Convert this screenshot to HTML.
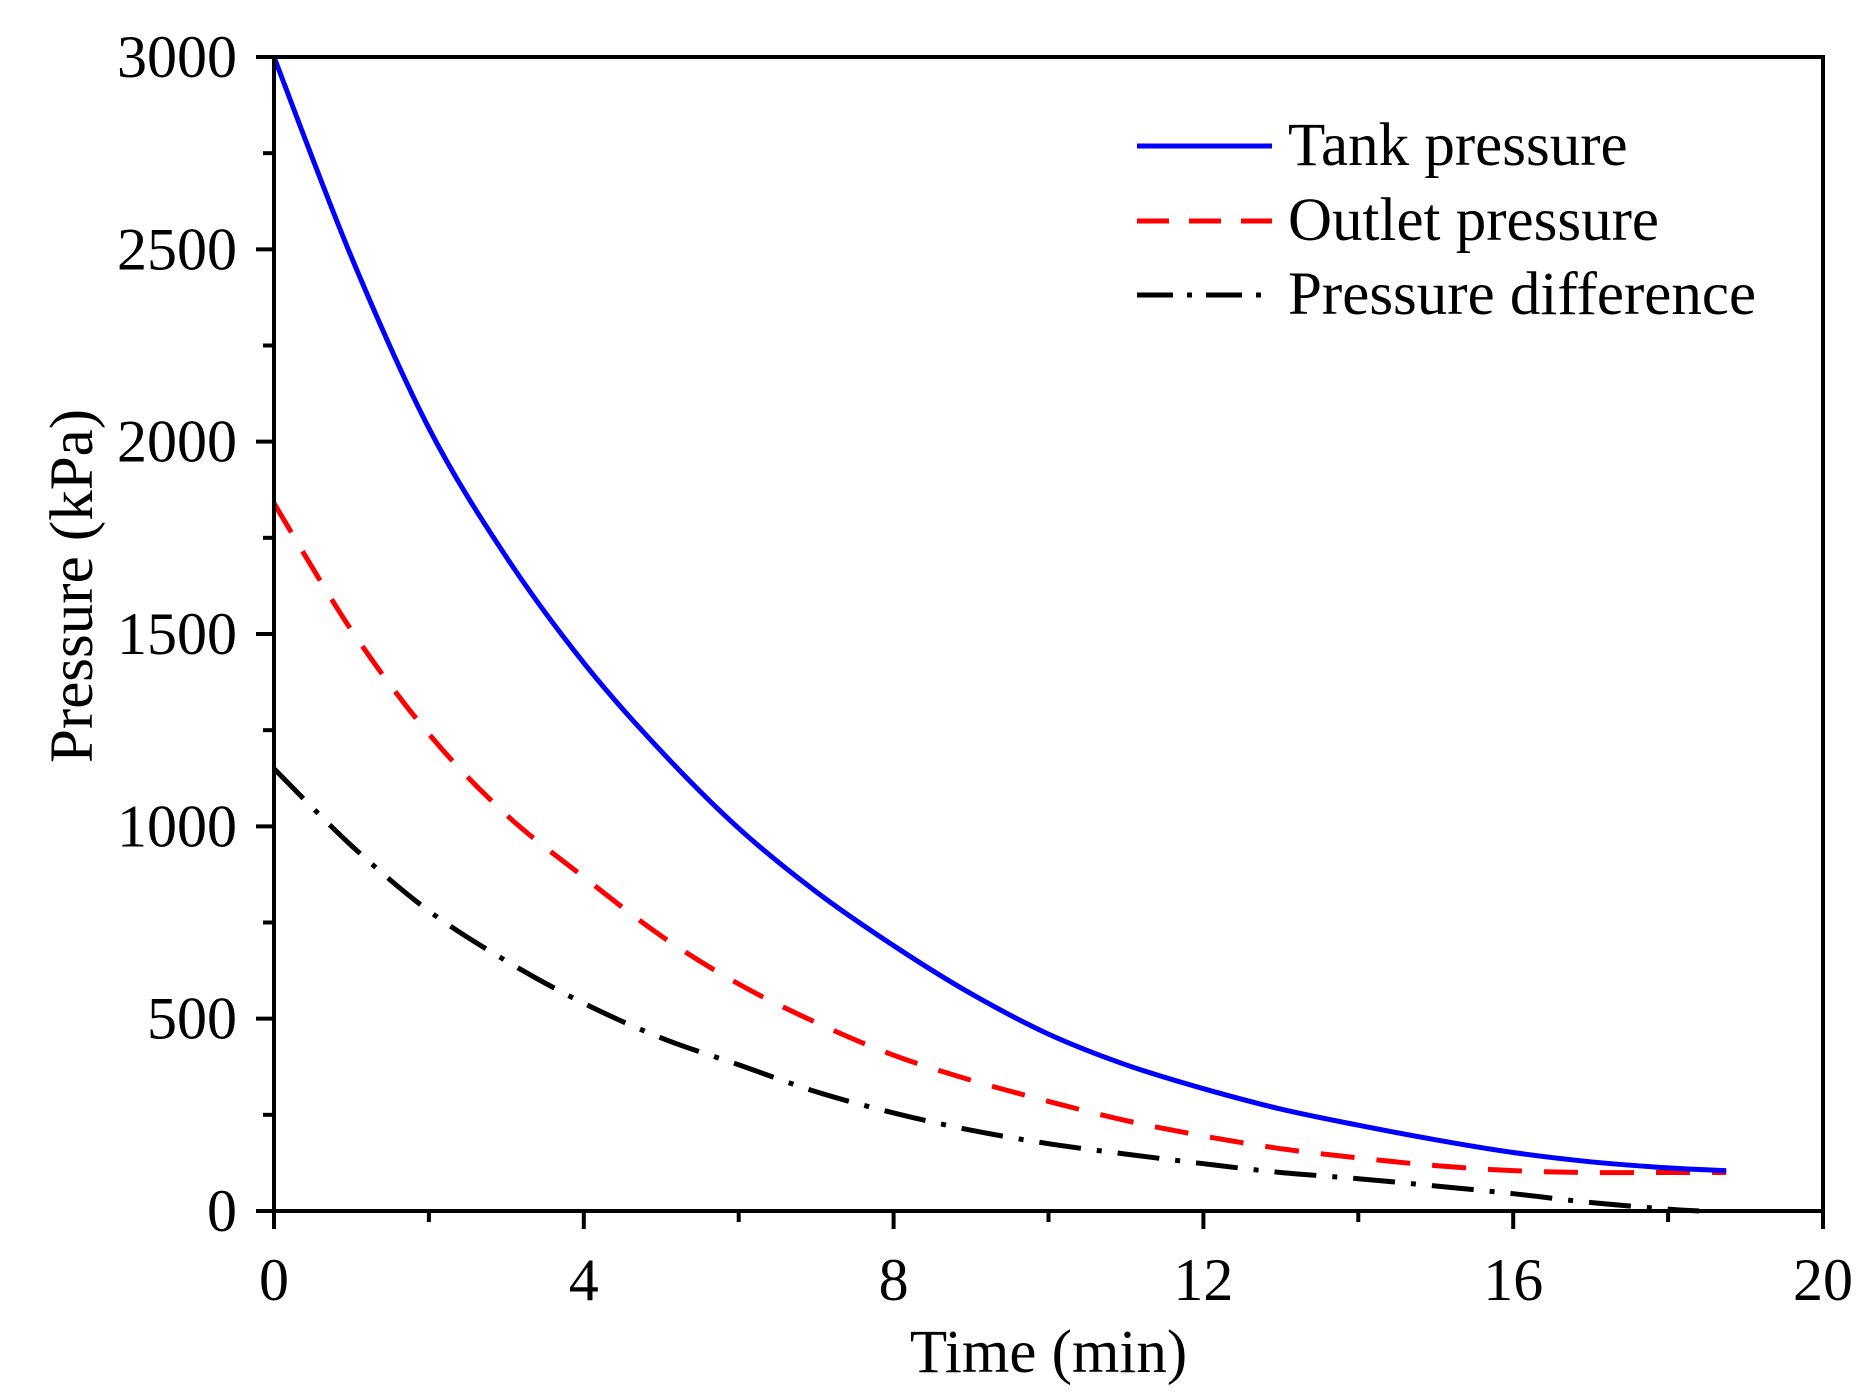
<!DOCTYPE html>
<html><head><meta charset="utf-8">
<style>
html,body{margin:0;padding:0;background:#fff;}
svg{display:block;}
text{font-family:"Liberation Serif","Times New Roman",serif;fill:#000;}
</style></head>
<body>
<svg id="chart" width="1870" height="1400" viewBox="0 0 1870 1400" xmlns="http://www.w3.org/2000/svg">
<g id="marks"></g>
<g id="axes"></g>
</svg>
<script>
const times = [0,1,2,3,4,5,6,7,8,9,10,11,12,13,14,15,16,17,18,18.75];
const tankPressure = [3000,2480,2035,1700,1425,1195,995,830,690,565,460,380,318,265,223,185,152,128,112,105];
const outletPressure = [1840,1510,1240,1030,868,715,590,490,405,340,285,235,195,162,138,118,105,100,100,100];
const diffTimes = [0,1,2,3,4,5,6,7,8,9,10,11,12,13,14,15,16,17,18,18.4];
const pressureDiff = [1150,950,780,650,540,450,380,310,255,210,175,148,123,100,84,65,45,22,5,0];
const xTicks = [0,4,8,12,16,20];
const yTicks = [0,500,1000,1500,2000,2500,3000];

const L=274,R=1823,T=57,B=1211;
const X0=0,X1=20,Y0=0,Y1=3000;
function sx(v){return L+(v-X0)/(X1-X0)*(R-L);}
function sy(v){return B-(v-Y0)/(Y1-Y0)*(B-T);}
const NS="http://www.w3.org/2000/svg";
const marks=document.getElementById('marks');
const axes=document.getElementById('axes');
function mk(tag,attrs,parent){const e=document.createElementNS(NS,tag);for(const k in attrs)e.setAttribute(k,attrs[k]);parent.appendChild(e);return e;}

function smoothPath(xs,ys){
  const p=xs.map((x,i)=>[sx(x),sy(ys[i])]);
  let d="M"+p[0][0].toFixed(1)+","+p[0][1].toFixed(1);
  for(let i=0;i<p.length-1;i++){
    const p0=p[Math.max(0,i-1)],p1=p[i],p2=p[i+1],p3=p[Math.min(p.length-1,i+2)];
    const c1=[p1[0]+(p2[0]-p0[0])/6,p1[1]+(p2[1]-p0[1])/6];
    const c2=[p2[0]-(p3[0]-p1[0])/6,p2[1]-(p3[1]-p1[1])/6];
    d+=" C"+c1[0].toFixed(1)+","+c1[1].toFixed(1)+" "+c2[0].toFixed(1)+","+c2[1].toFixed(1)+" "+p2[0].toFixed(1)+","+p2[1].toFixed(1);
  }
  return d;
}
let e;
e=mk('path',{d:smoothPath(diffTimes,pressureDiff),fill:'none',stroke:'#000','stroke-width':5,'stroke-dasharray':'42,16,5,16'},marks);


e=mk('path',{d:smoothPath(times,outletPressure),fill:'none',stroke:'#ff0000','stroke-width':5,'stroke-dasharray':'34,22'},marks);


e=mk('path',{d:smoothPath(times,tankPressure),fill:'none',stroke:'#0000ff','stroke-width':5},marks);



e=mk('rect',{x:L,y:T,width:R-L,height:B-T,fill:'none',stroke:'#000','stroke-width':4},axes);


for(let v=0;v<=20;v+=2){
  const major=v%4===0;
  e=mk('line',{x1:sx(v),x2:sx(v),y1:B,y2:B+(major?18:11),stroke:'#000','stroke-width':4},axes);
  
  
}
xTicks.forEach(v=>{
  e=mk('text',{x:sx(v),y:1300,'font-size':60,'text-anchor':'middle'},axes);
  e.textContent=v;
  
  
});
for(let v=0;v<=3000;v+=250){
  const major=v%500===0;
  e=mk('line',{x1:L-(major?18:11),x2:L,y1:sy(v),y2:sy(v),stroke:'#000','stroke-width':4},axes);
  
  
}
yTicks.forEach(v=>{
  e=mk('text',{x:237,y:sy(v)+20,'font-size':60,'text-anchor':'end'},axes);
  e.textContent=v;
  
  
});
e=mk('text',{x:(L+R)/2,y:1372,'font-size':61,'text-anchor':'middle'},axes);
e.textContent='Time (min)';


e=mk('text',{x:0,y:0,'font-size':61,'text-anchor':'middle',transform:'translate(92,586) rotate(-90)'},axes);
e.textContent='Pressure (kPa)';



const legNames=['Tank pressure','Outlet pressure','Pressure difference'];
const legColors=['#0000ff','#ff0000','#000'];
const legDash=['none','32,20','36,14,5,14'];
const legY=[146,221,295];
const legKeys=['legend-entry-tank','legend-entry-outlet','legend-entry-difference'];
for(let i=0;i<3;i++){
  const g=mk('g',{},axes);
  
  
  mk('line',{x1:1137,x2:1272,y1:legY[i],y2:legY[i],stroke:legColors[i],'stroke-width':5,'stroke-dasharray':legDash[i]},g);
  const t=mk('text',{x:1288,y:legY[i]+19,'font-size':61},g);
  t.textContent=legNames[i];
}
</script>
</body></html>
